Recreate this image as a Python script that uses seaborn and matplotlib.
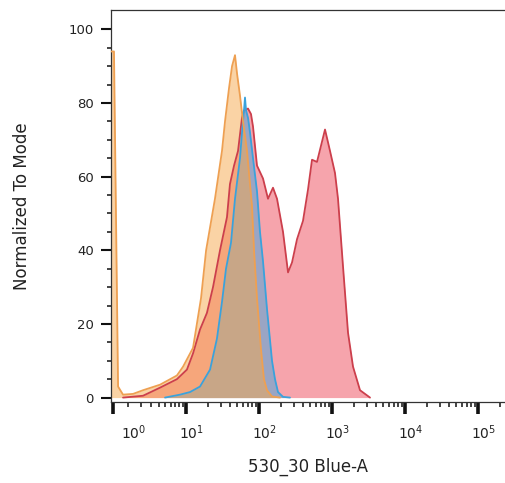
import numpy as np
import pandas as pd
import matplotlib
matplotlib.use("Agg")
import matplotlib.pyplot as plt
import seaborn as sns
from matplotlib.transforms import ScaledTranslation
from matplotlib.ticker import FixedLocator, FixedFormatter

# ---- data (channel value on 530_30 Blue-A, percent of mode) ----
orange_x = [-0.16, 0.06, 0.32, 0.64, 1.35, 2.19, 4.18, 7.37, 9.0, 12.4, 16.0,
            18.8, 24.9, 31.1, 34.2, 38.8, 42.7, 46.9, 50.0, 54.9, 60.4, 68.5,
            75.3, 80.2, 85.5, 93.9, 106.6, 117.0, 128.8, 150.8, 194.0]
orange_y = [94, 94, 3, 0.8, 1.0, 2.0, 3.5, 6.0, 8.4, 13.5, 27,
            40, 54, 67, 75, 84, 90, 93, 88, 82, 75, 67,
            58, 52, 40, 27, 13, 5, 2, 0.3, 0]

blue_x = [4.96, 8.17, 11.26, 15.5, 21.3, 26.5, 31.1, 35.3, 41.3, 46.9, 54.9,
          58.5, 62.3, 64.3, 66.4, 70.7, 75.3, 82.8, 93.9, 103.2, 113.5, 128.8,
          150.8, 165.7, 182.2, 213.4, 266.0]
blue_y = [0, 0.8, 1.5, 3, 7.6, 16, 26, 35, 42, 54, 65,
          72, 78, 81.5, 78, 76, 72, 65, 56, 45, 37, 24,
          10, 5, 1.5, 0.2, 0]

red_x = [0.64, 2.19, 4.18, 7.37, 10.2, 12.4, 15.5, 19.3, 23.4, 29.2, 36.4,
         40.0, 45.5, 51.6, 58.5, 62.3, 70.7, 77.7, 82.8, 93.9, 113.5, 132.9,
         155.6, 176.6, 213.4, 250.0, 283.6, 332.0, 401.0, 469.6, 532.8, 623.6,
         803.0, 940.0, 1100.0, 1210.0, 1417.0, 1660.0, 1943.0, 2423.0, 3321.0]
red_y = [0, 0.5, 2.7, 5, 7.6, 12, 18.5, 23, 30, 40, 49,
         58, 63, 67, 76, 78, 78.5, 77, 73.6, 63, 59.5, 54,
         57, 54, 45, 34, 36.7, 43, 48, 56.5, 64.6, 64,
         72.8, 67, 61, 54, 35.6, 17.6, 8.4, 2, 0]

x_tick_values = [0, 1, 10, 100, 1000, 10000, 100000]
x_tick_labels = ["", r"$10^0$", r"$10^1$", r"$10^2$", r"$10^3$", r"$10^4$", r"$10^5$"]
y_tick_values = [0, 20, 40, 60, 80, 100]

x_label = "530_30 Blue-A"
y_label = "Normalized To Mode"

# ---- styling ----
sns.set_style("ticks")
plt.rcParams['font.family'] = ['DejaVu Sans']

W, H = 505, 483
fig = plt.figure(figsize=(W / 100, H / 100), dpi=100)
ax = fig.add_axes([110.5 / W, 1 - 402 / H, (W - 110.5) / W, 392.5 / H])
ax.set_xscale('asinh', linear_width=2)

series = [
    ("red", red_x, red_y, "#ee4b5a", "#cc3f4c"),
    ("blue", blue_x, blue_y, "#3fa6dd", "#3aa2dc"),
    ("orange", orange_x, orange_y, "#f7a84c", "#eea052"),
]
for name, xs, ys, fill, edge in series:
    ax.fill_between(xs, 0, ys, color=fill, alpha=0.5, lw=0, zorder=2)
    df = pd.DataFrame({"x": xs, "y": ys})
    sns.lineplot(data=df, x="x", y="y", ax=ax, color=edge, lw=1.3,
                 sort=False, estimator=None, zorder=3)

ax.set_xlim(-0.16, 2.35e5)
ax.set_ylim(-1.2, 105.4)

# x ticks
ax.xaxis.set_major_locator(FixedLocator(x_tick_values))
ax.xaxis.set_major_formatter(FixedFormatter(x_tick_labels))
minors = [k * 10 ** d for d in range(0, 5) for k in range(2, 10)] + [200000]
ax.xaxis.set_minor_locator(FixedLocator(minors))
ax.xaxis.set_minor_formatter(FixedFormatter([""] * len(minors)))
ax.tick_params(axis='x', which='major', direction='out', length=8.5, width=2.6,
               color='#111111', labelsize=10, pad=7, labelcolor='#222222')
ax.tick_params(axis='x', which='minor', direction='out', length=3.6, width=1.1,
               color='#111111')
# the 10^0 tick is drawn like a minor tick
t0 = ax.xaxis.get_major_ticks()[1]
t0.tick1line.set_markersize(3.6)
t0.tick1line.set_markeredgewidth(1.1)
offset = ScaledTranslation(4 / 72, 0, fig.dpi_scale_trans)
for lab in ax.get_xticklabels():
    lab.set_transform(lab.get_transform() + offset)

# y ticks
ax.set_yticks(y_tick_values)
ax.set_yticks(np.arange(0, 105, 5), minor=True)
ax.tick_params(axis='y', which='major', direction='out', length=7, width=1.5,
               color='#111111', labelsize=9.5, pad=5, labelcolor='#222222')
ax.tick_params(axis='y', which='minor', direction='out', length=2.8, width=1.1,
               color='#111111')

for s in ["left", "bottom", "top"]:
    ax.spines[s].set_color("#333333")
    ax.spines[s].set_linewidth(0.9)
ax.spines["right"].set_visible(False)

ax.set_xlabel(x_label, fontsize=12, color='#222222', labelpad=11)
ax.set_ylabel(y_label, fontsize=12, color='#222222', labelpad=27)

fig.savefig("out.png", dpi=100)
